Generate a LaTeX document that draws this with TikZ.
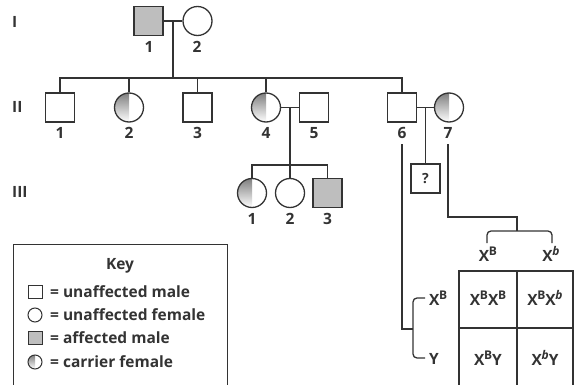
\documentclass[tikz,border=0pt]{standalone}
\usepackage{fontspec}
\setmainfont{Open Sans}
\usetikzlibrary{calc}
\definecolor{ink}{HTML}{333333}
\definecolor{shade}{HTML}{BEBEBE}
\newcommand\supx[1]{X\kern-0.02em\raisebox{0.4em}{\fontsize{12}{12}\selectfont #1}}
\begin{document}
\begin{tikzpicture}[x=1pt,y=-1pt,
  every node/.style={font=\fontsize{15.5}{15.5}\selectfont\bfseries, text=ink},
  conn/.style={draw=ink, line width=1.3pt},
  male/.style={rectangle, draw=ink, line width=1.3pt, fill=white, minimum size=29pt, inner sep=0pt},
  female/.style={circle, draw=ink, line width=1.3pt, fill=white, minimum size=29pt, inner sep=0pt},
  affected/.style={fill=shade},
  carrier/.style={path picture={\fill[shade] (path picture bounding box.north west) rectangle (path picture bounding box.south);}},
  kmale/.style={rectangle, draw=ink, line width=1pt, fill=white, minimum width=14pt, minimum height=13pt, inner sep=0pt},
  kfemale/.style={circle, draw=ink, line width=1pt, fill=white, minimum size=14pt, inner sep=0pt},
  lbl/.style={anchor=center, inner sep=0pt},
  ktext/.style={anchor=west, inner sep=0pt}
]
\useasboundingbox (0,0) rectangle (578,385);

% generation numerals
\node[ktext] (gI) at (12,22) {I};
\node[ktext] (gII) at (12,107) {II};
\node[ktext] (gIII) at (12,192) {III};

% generation I
\node[male,affected] (I1) at (148.5,21) {};
\node[female] (I2) at (197.5,21) {};
\node[lbl] (lI1) at (149,47) {1};
\node[lbl] (lI2) at (197,47) {2};
\coordinate (mI) at (173,21);
\coordinate (sI) at (173,78);

% generation II
\node[male] (II1) at (60,107.5) {};
\node[female,carrier] (II2) at (129,107.5) {};
\node[male] (II3) at (197.5,107.5) {};
\node[female,carrier] (II4) at (266,107.5) {};
\node[male] (II5) at (314,107.5) {};
\node[male] (II6) at (402,107.5) {};
\node[female,carrier] (II7) at (449,107.5) {};
\foreach \n/\x in {1/60,2/129,3/197.5,4/266,5/314,6/402,7/448}
  \node[lbl] (lII\n) at (\x,133) {\n};

\draw[conn] (I1) -- (I2);
\draw[conn] (mI) -- (sI);
\draw[conn] (II1.north) |- (sI) -| (II6.north);
\foreach \c in {II2,II3,II4}
  \draw[conn] (\c.north) -- (\c.north |- sI);

% II4 x II5
\draw[conn] (II4) -- (II5);
\coordinate (m45) at (290,107.5);
\coordinate (s45) at (290,165);
\node[female,carrier] (III1) at (252,193) {};
\node[female] (III2) at (290,193) {};
\node[male,affected] (III3) at (327.5,193) {};
\foreach \n/\x in {1/252,2/290,3/327.5}
  \node[lbl] (lIII\n) at (\x,219) {\n};
\draw[conn] (m45) -- (III2.north);
\draw[conn] (III1.north) |- (s45) -| (III3.north);

% II6 x II7
\draw[conn] (II6) -- (II7);
\node[male, font=\fontsize{14}{14}\selectfont\bfseries] (Q) at (425.5,178.5) {?};
\draw[conn] (Q.north |- II6) -- (Q.north);

% gamete lines
\coordinate (f7a) at (448,144);
\coordinate (f7b) at (448,217);
\coordinate (f7c) at (517,217);
\coordinate (f7d) at (517,231);
\draw[conn] (f7a) -- (f7b) -- (f7c) -- (f7d);
\draw[conn, rounded corners=4pt] (487,243) -- (487,231) -- (552,231) -- (552,243);

\coordinate (f6a) at (402,144);
\coordinate (f6b) at (402,329);
\coordinate (f6c) at (413,329);
\draw[conn] (f6a) -- (f6b) -- (f6c);
\draw[conn, rounded corners=4pt] (425,298) -- (413,298) -- (413,358) -- (425,358);

\node[lbl] (gXB) at (488,254) {\supx{B}};
\node[lbl] (gXb) at (551,254) {\supx{\itshape b}};
\node[ktext] (gXB2) at (429,298) {\supx{B}};
\node[ktext] (gY) at (429,359) {Y};

% Punnett square
\draw[conn] (459,386) -- (459,271) -- (573,271) -- (573,386);
\draw[conn] (517,271) -- (517,386);
\draw[conn] (459,328) -- (573,328);
\node[lbl] (c11) at (488,298) {\supx{B}\supx{B}};
\node[lbl] (c12) at (545,298) {\supx{B}\supx{\itshape b}};
\node[lbl] (c21) at (488,358) {\supx{B}Y};
\node[lbl] (c22) at (545,358) {\supx{\itshape b}Y};

% Key
\draw[conn, line width=1pt] (13,390) -- (13,244) -- (227,244) -- (227,390);
\node[lbl] (key) at (120,266) {Key};
\node[kmale] (k1) at (35,292) {};
\node[kfemale] (k2) at (35,315) {};
\node[kmale,affected] (k3) at (35,338) {};
\node[kfemale,carrier] (k4) at (35,362) {};
\node[ktext] (t1) at (50,292) {= unaffected male};
\node[ktext] (t2) at (50,315) {= unaffected female};
\node[ktext] (t3) at (50,338) {= affected male};
\node[ktext] (t4) at (50,362) {= carrier female};
\end{tikzpicture}
\end{document}
